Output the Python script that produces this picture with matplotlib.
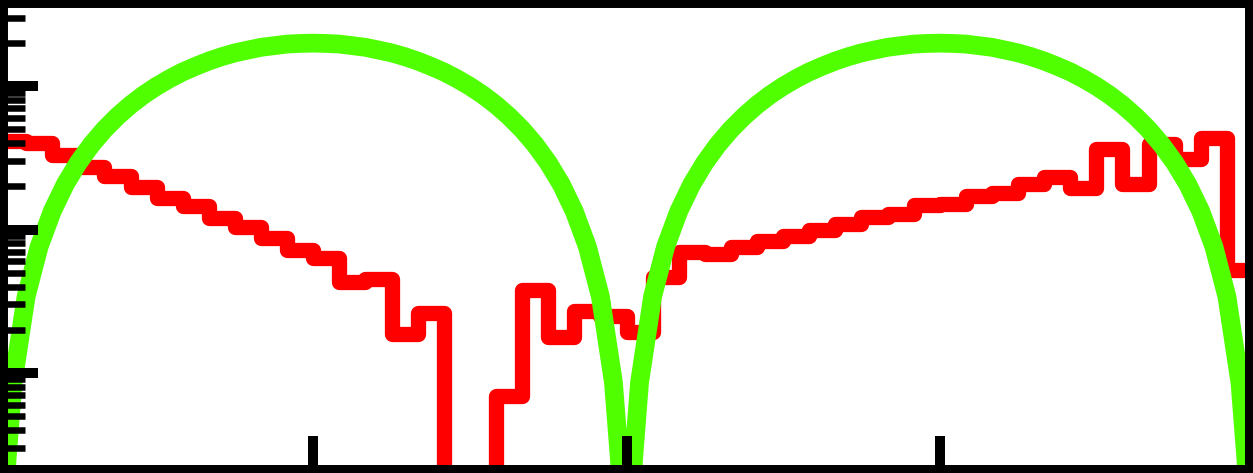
import matplotlib
matplotlib.use("Agg")
import matplotlib.pyplot as plt

# red step histogram: 48 bins across the x range (degrees)
red_edges_deg = [i * 7.5 for i in range(49)]
red_values = [41.7, 40.0, 33.3, 27.3, 23.6, 19.8, 16.6, 14.6, 12.0, 10.4,
              8.7, 7.2, 6.3, 4.3, 4.5, 1.87, 2.6, 0, 0, 0.69,
              3.8, 1.78, 2.7, 2.5, 1.93, 4.7, 7.0, 6.75, 7.55, 8.3,
              9.0, 9.9, 10.9, 12.2, 12.8, 14.8, 15.1, 17.2, 18.0, 20.9,
              23.3, 19.5, 36.6, 20.9, 39.7, 31.0, 43.5, 5.2]

# green curve: rising quarter of one arch, mirrored for the rest
# (the zero points are left out of the line, so each arch ends below the axis)
green_rise_deg = [0, 1, 2, 3.75, 7.5, 11.25, 15, 18.75, 22.5, 26.25, 30, 33.75,
                  37.5, 41.25, 45, 48.75, 52.5, 56.25, 60, 63.75, 67.5, 71.25,
                  75, 78.75, 82.5, 86.25, 90]
green_rise = [float("nan"), 0.061, 0.244, 0.856, 3.41, 7.61, 13.4, 20.7, 29.3,
              39.1, 50.0, 61.7, 74.1, 87.0, 100, 113, 126, 138, 150, 161, 171,
              179, 187, 192, 197, 199, 200]

x_ticks = [90, 180, 270]


def arch(start):
    xs = [start + d for d in green_rise_deg]
    xs += [start + 180 - d for d in reversed(green_rise_deg[:-1])]
    ys = green_rise + list(reversed(green_rise[:-1]))
    return xs, ys


x1, y1 = arch(0)
x2, y2 = arch(180)
green_x = x1 + x2
green_y = y1 + y2

fig = plt.figure(figsize=(12.53, 4.73), dpi=100)
ax = fig.add_axes([0, 0, 1, 1])
ax.set_axisbelow(False)

ax.stairs(red_values, red_edges_deg, baseline=None, color="#ff0000",
          linewidth=11, joinstyle="round", capstyle="round")
ax.plot(green_x, green_y, color="#50ff00", linewidth=13.5,
        solid_joinstyle="round", solid_capstyle="round")

ax.set_yscale("log")
ax.set_xlim(0, 360)
ax.set_ylim(0.2, 400)
ax.set_xticks(x_ticks)

ax.tick_params(axis="y", which="major", direction="in", length=27.4, width=7.2,
               right=False, left=True, labelleft=False, color="black")
ax.tick_params(axis="y", which="minor", direction="in", length=18, width=4.7,
               right=False, left=True, labelleft=False, color="black")
ax.tick_params(axis="x", which="major", direction="in", length=27, width=7.2,
               top=False, bottom=True, labelbottom=False, color="black")

for sp in ax.spines.values():
    sp.set_linewidth(11.5)
    sp.set_color("black")

fig.savefig("out.png", dpi=100)
